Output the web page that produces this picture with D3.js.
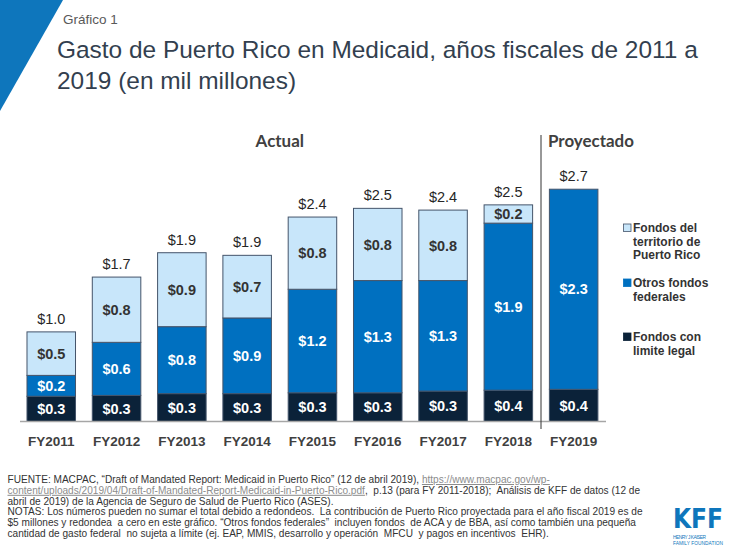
<!DOCTYPE html>
<html>
<head>
<meta charset="utf-8">
<script src="https://cdn.jsdelivr.net/npm/d3@7"></script>
<style>
  body { margin: 0; background: #fff; }
  svg { font-family: "Liberation Sans", Arial, sans-serif; }
</style>
</head>
<body>
<svg id="chart" width="735" height="551"></svg>
<script>
// values in billions
const years = ["FY2011", "FY2012", "FY2013", "FY2014", "FY2015", "FY2016", "FY2017", "FY2018", "FY2019"];
const capped = [0.29, 0.30, 0.32, 0.32, 0.33, 0.33, 0.35, 0.36, 0.37];
const otherFederal = [0.24, 0.61, 0.77, 0.87, 1.19, 1.29, 1.27, 1.92, 2.30];
const territory = [0.50, 0.75, 0.85, 0.72, 0.83, 0.83, 0.81, 0.21, 0.00];

const cappedLabels = ["$0.3", "$0.3", "$0.3", "$0.3", "$0.3", "$0.3", "$0.3", "$0.4", "$0.4"];
const otherLabels = ["$0.2", "$0.6", "$0.8", "$0.9", "$1.2", "$1.3", "$1.3", "$1.9", "$2.3"];
const territoryLabels = ["$0.5", "$0.8", "$0.9", "$0.7", "$0.8", "$0.8", "$0.8", "$0.2", ""];
const totalLabels = ["$1.0", "$1.7", "$1.9", "$1.9", "$2.4", "$2.5", "$2.4", "$2.5", "$2.7"];

const seriesNames = ["capped", "other", "territory"];
const seriesColors = ["#0B2239", "#0070C0", "#C8E6FA"];
const seriesText = ["#fff", "#fff", "#333"];
const legendLines = [
  ["Fondos del", "territorio de", "Puerto Rico"],
  ["Otros fondos", "federales"],
  ["Fondos con", "limite legal"]
];

const svg = d3.select("#chart");

// shrink/grow a text's font so it spans the wanted width
function fitWidth(sel, width) {
  const fs = +sel.attr("font-size");
  const w = sel.node().getComputedTextLength();
  const nfs = fs * width / w;
  sel.attr("font-size", nfs);
  return nfs;
}

// corner triangle + headings
svg.append("path")
  .attr("d", "M0,0 L63,0 L0,111 Z")
  .attr("fill", "#0E76BC");

svg.append("text")
  .attr("x", 63).attr("y", 24)
  .attr("font-size", 13.5)
  .attr("fill", "#595959")
  .text("Gráfico 1");

const title1 = svg.append("text")
  .attr("x", 57).attr("y", 58)
  .attr("font-size", 22)
  .attr("fill", "#333F4F")
  .text("Gasto de Puerto Rico en Medicaid, años fiscales de 2011 a");
const titleSize = fitWidth(title1, 641);

svg.append("text")
  .attr("x", 57).attr("y", 89)
  .attr("font-size", titleSize)
  .attr("fill", "#333F4F")
  .text("2019 (en mil millones)");

// scales
const baseline = 421.5;
const x = d3.scaleBand()
  .domain(years)
  .range([18.6, 606.3])
  .paddingInner(0.257)
  .paddingOuter(0.1285);

const y = d3.scaleLinear()
  .domain([0, 3])
  .range([baseline, baseline - 261]);

const rows = years.map((yr, i) => ({
  year: yr,
  capped: capped[i],
  other: otherFederal[i],
  territory: territory[i]
}));
const labelSets = { capped: cappedLabels, other: otherLabels, territory: territoryLabels };

const stacked = d3.stack().keys(seriesNames)(rows);

const g = svg.append("g");

stacked.forEach((layer, si) => {
  g.selectAll(".seg-" + layer.key)
    .data(layer.filter(d => d[1] - d[0] > 0))
    .enter().append("rect")
    .attr("class", "seg-" + layer.key)
    .attr("x", d => x(d.data.year))
    .attr("y", d => y(d[1]))
    .attr("width", x.bandwidth())
    .attr("height", d => y(d[0]) - y(d[1]))
    .attr("fill", seriesColors[si])
    .attr("stroke", "#44546A")
    .attr("stroke-width", 1);

  g.selectAll(".lab-" + layer.key)
    .data(layer)
    .enter().append("text")
    .attr("class", "lab-" + layer.key)
    .attr("x", d => x(d.data.year) + x.bandwidth() / 2)
    .attr("y", d => (y(d[0]) + y(d[1])) / 2)
    .attr("dy", "0.36em")
    .attr("text-anchor", "middle")
    .attr("font-size", 14.5)
    .attr("font-weight", "bold")
    .attr("fill", seriesText[si])
    .text((d, i) => labelSets[layer.key][i]);
});

// totals
const topLayer = stacked[stacked.length - 1];
g.selectAll(".total")
  .data(topLayer)
  .enter().append("text")
  .attr("class", "total")
  .attr("x", d => x(d.data.year) + x.bandwidth() / 2)
  .attr("y", d => y(d[1]) - 8)
  .attr("text-anchor", "middle")
  .attr("font-size", 14.5)
  .attr("fill", "#262626")
  .text((d, i) => totalLabels[i]);

// x axis
const xAxis = svg.append("g")
  .attr("transform", "translate(0," + baseline + ")")
  .call(d3.axisBottom(x).tickSize(0).tickPadding(15));
xAxis.select(".domain")
  .attr("d", "M" + 20 + ",0H" + 606)
  .attr("stroke", "#A6A6A6")
  .attr("stroke-width", 1.5);
xAxis.selectAll("text")
  .attr("font-family", "Liberation Sans, Arial, sans-serif")
  .attr("font-size", 13.5)
  .attr("font-weight", "bold")
  .attr("fill", "#404040");

// actual / projected divider
const divX = (x("FY2018") + x.bandwidth() + x("FY2019")) / 2;
svg.append("line")
  .attr("x1", divX).attr("x2", divX)
  .attr("y1", 135).attr("y2", 429)
  .attr("stroke", "#333")
  .attr("stroke-width", 1);

const proj = svg.append("text")
  .attr("x", divX + 7)
  .attr("y", 147)
  .attr("font-family", "Lato, sans-serif")
  .attr("font-weight", "bold")
  .attr("font-size", 16.5)
  .attr("fill", "#404040")
  .text("Proyectado");
const headSize = fitWidth(proj, 86);

svg.append("text")
  .attr("x", (x("FY2011") + x("FY2018") + x.bandwidth()) / 2)
  .attr("y", 147)
  .attr("text-anchor", "middle")
  .attr("font-family", "Lato, sans-serif")
  .attr("font-weight", "bold")
  .attr("font-size", headSize)
  .attr("fill", "#404040")
  .text("Actual");

// legend (top item first)
const legendTops = [232, 287, 341];
const legendOrder = [2, 1, 0];
legendOrder.forEach((si, k) => {
  const ly = legendTops[k];
  svg.append("rect")
    .attr("x", 623.5).attr("y", ly - 8)
    .attr("width", 7.5).attr("height", 7.5)
    .attr("fill", seriesColors[si])
    .attr("stroke", si === 2 ? "#44546A" : seriesColors[si])
    .attr("stroke-width", 0.8);
  const t = svg.append("text")
    .attr("x", 633).attr("y", ly)
    .attr("font-size", 12)
    .attr("font-weight", "bold")
    .attr("fill", "#333");
  legendLines[k].forEach((ln, j) => {
    t.append("tspan").attr("x", 633).attr("y", ly + j * 13.7).text(ln);
  });
});

// footer notes
const notes = [
  [["FUENTE: MACPAC, “Draft of Mandated Report: Medicaid in Puerto Rico” (12 de abril 2019), ", false], ["https://www.macpac.gov/wp-", true]],
  [["content/uploads/2019/04/Draft-of-Mandated-Report-Medicaid-in-Puerto-Rico.pdf", true], [",  p.13 (para FY 2011-2018);  Análisis de KFF de datos (12 de", false]],
  [["abril de 2019) de la Agencia de Seguro de Salud de Puerto Rico (ASES).", false]],
  [["NOTAS: Los números pueden no sumar el total debido a redondeos.  La contribución de Puerto Rico proyectada para el año fiscal 2019 es de", false]],
  [["$5 millones y redondea  a cero en este gráfico. “Otros fondos federales”  incluyen fondos  de ACA y de BBA, así como también una pequeña", false]],
  [["cantidad de gasto federal  no sujeta a límite (ej. EAP, MMIS, desarrollo y operación  MFCU  y pagos en incentivos  EHR).", false]]
];
const noteLines = notes.map((parts, i) => {
  const t = svg.append("text")
    .attr("x", 7.5)
    .attr("y", 483 + i * 10.8)
    .attr("font-size", 9.6)
    .attr("fill", "#333")
    .style("white-space", "pre");
  parts.forEach(p => {
    const s = t.append("tspan").text(p[0]);
    if (p[1]) s.attr("fill", "#8C8C8C").attr("text-decoration", "underline");
  });
  return t;
});
const noteSize = fitWidth(noteLines[3], 635);
noteLines.forEach(t => t.attr("font-size", noteSize));

// KFF mark
svg.append("text")
  .attr("x", 673).attr("y", 528)
  .attr("font-family", "Liberation Sans Narrow, DejaVu Sans Condensed, sans-serif")
  .attr("font-weight", "bold")
  .attr("font-size", 26)
  .attr("textLength", 50)
  .attr("lengthAdjust", "spacingAndGlyphs")
  .attr("fill", "#0E76BC")
  .text("KFF");
svg.append("text")
  .attr("x", 673).attr("y", 539)
  .attr("font-size", 4.8)
  .attr("textLength", 33)
  .attr("fill", "#0E76BC")
  .text("HENRY J KAISER");
svg.append("text")
  .attr("x", 673).attr("y", 545)
  .attr("font-size", 4.8)
  .attr("textLength", 50)
  .attr("fill", "#0E76BC")
  .text("FAMILY FOUNDATION");
</script>
</body>
</html>
